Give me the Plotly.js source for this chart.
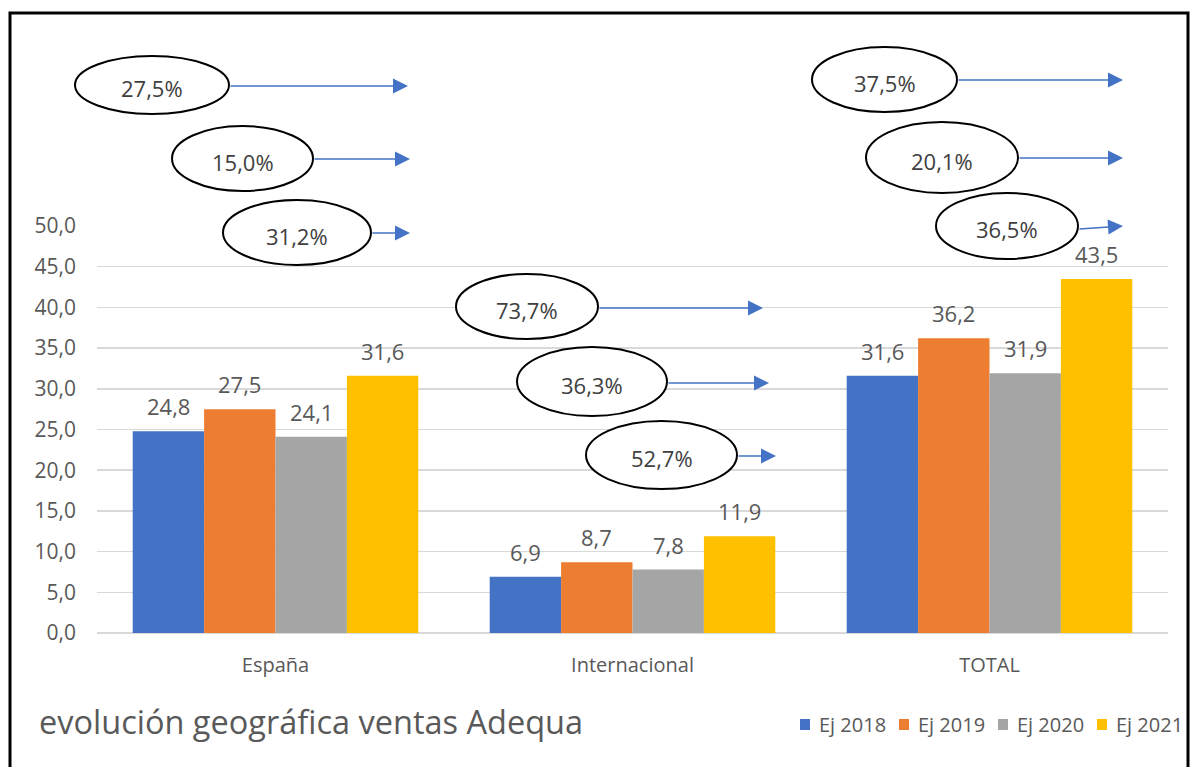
<!DOCTYPE html>
<html>
<head>
<meta charset="utf-8">
<script src="https://cdn.plot.ly/plotly-3.0.1.min.js"></script>
<style>html,body{margin:0;padding:0;background:#fff;}#chart{width:1192px;height:767px;}</style>
</head>
<body>
<div id="chart"></div>
<script>
// ---- data ----
const categories = ["España", "Internacional", "TOTAL"];
const seriesNames = ["Ej 2018", "Ej 2019", "Ej 2020", "Ej 2021"];
const ej2018 = [24.8, 6.9, 31.6];
const ej2019 = [27.5, 8.7, 36.2];
const ej2020 = [24.1, 7.8, 31.9];
const ej2021 = [31.6, 11.9, 43.5];
const seriesColors = ["#4472C4", "#ED7D31", "#A5A5A5", "#FFC000"];
const yTickVals = [0, 5, 10, 15, 20, 25, 30, 35, 40, 45, 50];
const growthLabels = ["27,5%", "15,0%", "31,2%", "73,7%", "36,3%", "52,7%", "37,5%", "20,1%", "36,5%"];
const chartTitle = "evolución geográfica ventas Adequa";

// ---- layout helpers (pixel -> paper) ----
const W = 1192, H = 767;
const L = 97, R = 1168, T = 226, B = 633;
const px = x => (x - L) / (R - L);
const py = y => (B - y) / (B - T);

// callout geometry: ellipse box + arrow (pixel positions)
const callouts = [
  {e: [75, 56, 229, 114], a: [229, 86, 408, 86]},
  {e: [172, 126, 313, 191], a: [313, 159, 410, 159]},
  {e: [223, 200, 371, 265], a: [371, 233, 410, 233]},
  {e: [456, 274, 598, 339], a: [598, 308, 763, 308]},
  {e: [517, 347, 667, 416], a: [667, 383, 769, 383]},
  {e: [586, 421, 737, 489], a: [737, 456, 776, 456]},
  {e: [812, 47, 957, 112], a: [957, 80, 1123, 80]},
  {e: [866, 122, 1018, 193], a: [1018, 158, 1123, 158]},
  {e: [936, 193, 1078, 259], a: [1078, 229, 1123, 226]}
];

const allSeries = [ej2018, ej2019, ej2020, ej2021];
const FONT = "'Open Sans', sans-serif";
const BARGAP = 0.2;
const nSeries = allSeries.length;
const barW = (1 - BARGAP) / nSeries;

const fmt = v => v.toFixed(1).replace(".", ",");

const traces = allSeries.map((vals, i) => ({
  type: "bar",
  name: seriesNames[i],
  x: categories,
  y: vals,
  marker: {color: seriesColors[i], line: {width: 0}},
  hoverinfo: "skip",
  showlegend: false
}));

const shapes = [];
const annotations = [];

// data labels above bars (positioned through the axes)
allSeries.forEach((vals, i) => {
  vals.forEach((v, c) => {
    annotations.push({
      xref: "x", yref: "y",
      x: c + (i - (nSeries - 1) / 2) * barW, y: v,
      yanchor: "middle", xanchor: "center", yshift: 25,
      text: fmt(v), showarrow: false,
      font: {size: 22, color: "#595959", family: FONT}
    });
  });
});

callouts.forEach((c, i) => {
  const [x0, y0, x1, y1] = c.e;
  shapes.push({
    type: "circle", xref: "paper", yref: "paper", layer: "above",
    x0: px(x0), x1: px(x1), y0: py(y1), y1: py(y0),
    line: {color: "#000000", width: 2}, fillcolor: "#FFFFFF"
  });
  annotations.push({
    xref: "paper", yref: "paper", x: px((x0 + x1) / 2), y: py((y0 + y1) / 2 + 3),
    xanchor: "center", yanchor: "middle",
    text: growthLabels[i], showarrow: false,
    font: {size: 22, color: "#404040", family: FONT}
  });
  const [ax0, ay0, ax1, ay1] = c.a;
  annotations.push({
    xref: "paper", yref: "paper", x: px(ax1), y: py(ay1),
    axref: "pixel", ayref: "pixel", ax: ax0 - ax1, ay: ay0 - ay1,
    text: "", showarrow: true, arrowhead: 2, arrowsize: 2, arrowwidth: 1.5,
    arrowcolor: "#4472C4", standoff: 0, startstandoff: 0
  });
});

// custom legend (bottom right)
const legX0 = 800, legStride = 99, legY = 724;
seriesNames.forEach((name, i) => {
  const sx = legX0 + i * legStride;
  shapes.push({
    type: "rect", xref: "paper", yref: "paper", layer: "above",
    x0: px(sx), x1: px(sx + 10), y0: py(legY + 6), y1: py(legY - 5),
    line: {width: 0}, fillcolor: seriesColors[i]
  });
  annotations.push({
    xref: "paper", yref: "paper", x: px(sx + 17), y: py(legY),
    xanchor: "left", yanchor: "middle",
    text: name, showarrow: false,
    font: {size: 20, color: "#595959", family: FONT}
  });
});

// frame
shapes.push({
  type: "rect", xref: "paper", yref: "paper", layer: "above",
  x0: px(10), x1: px(1188), y0: py(900), y1: py(13),
  line: {color: "#000000", width: 3}, fillcolor: "rgba(0,0,0,0)"
});

annotations.push({
  xref: "paper", yref: "paper", x: px(37), y: py(721), xanchor: "left", yanchor: "middle",
  text: chartTitle, showarrow: false,
  font: {size: 32.5, color: "#595959", family: FONT}
});

const layout = {
  width: W, height: H,
  margin: {l: L, r: W - R, t: T, b: H - B, autoexpand: false},
  paper_bgcolor: "#FFFFFF", plot_bgcolor: "#FFFFFF",
  separators: ",.",
  font: {family: FONT, color: "#595959", size: 18},
  barmode: "group", bargap: BARGAP, bargroupgap: 0,
  xaxis: {
    type: "category", showgrid: false, zeroline: false, showline: false,
    ticks: "", ticklabelstandoff: 18,
    tickfont: {size: 20, color: "#595959", family: FONT}
  },
  yaxis: {
    range: [0, 50], tickvals: yTickVals, tickformat: ".1f",
    showgrid: true, gridcolor: "#D9D9D9", gridwidth: 1.5,
    zeroline: true, zerolinecolor: "#D9D9D9", zerolinewidth: 1.5,
    showline: false, ticks: "", ticklabelstandoff: 20,
    tickfont: {size: 21, color: "#595959", family: FONT}
  },
  showlegend: false,
  shapes: shapes,
  annotations: annotations
};

Plotly.newPlot("chart", traces, layout, {displayModeBar: false, staticPlot: true});
</script>
</body>
</html>
